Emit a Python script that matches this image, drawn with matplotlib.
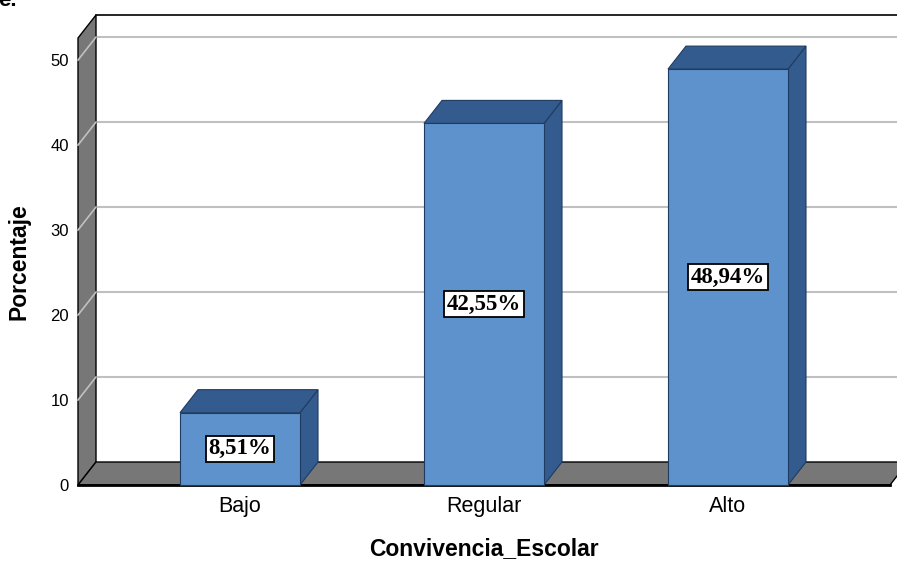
import numpy as np
import matplotlib
matplotlib.use("Agg")
import matplotlib.pyplot as plt
from matplotlib.patches import Polygon, Rectangle

# data
categories = ["Bajo", "Regular", "Alto"]
values = [8.51, 42.55, 48.94]
value_labels = ["8,51%", "42,55%", "48,94%"]
y_ticks = [0, 10, 20, 30, 40, 50]

front_col = "#5D92CC"
dark_col = "#345B8D"
edge_col = "#1F3B62"
gray = "#777777"
grid_col = "#C0C0C0"

W, H = 897, 562
fig = plt.figure(figsize=(W / 100, H / 100), dpi=100)
ax_l, ax_r, ax_b, ax_t = 78, 890, 485, 38
ax = fig.add_axes([ax_l / W, 1 - ax_b / H, (ax_r - ax_l) / W, (ax_b - ax_t) / H])
x0, x1 = -0.664, 2.664
y0, y1 = 0, 52.6
ax.set_xlim(x0, x1)
ax.set_ylim(y0, y1)
for s in ax.spines.values():
    s.set_visible(False)
ax.patch.set_visible(False)

# depth of the 3d effect in pixels, converted to data units
ddx = 18 * (x1 - x0) / (ax_r - ax_l)
ddy = 23 * (y1 - y0) / (ax_b - ax_t)
xr = x1 + 0.2  # back wall runs off the right edge

def poly(pts, fc, ec, lw=1.0, z=1):
    ax.add_patch(Polygon(pts, closed=True, facecolor=fc, edgecolor=ec,
                         linewidth=lw, zorder=z, clip_on=False))

# back wall grid lines
for v in y_ticks[1:]:
    ax.plot([x0 + ddx, xr], [v + ddy, v + ddy], color=grid_col, lw=1.5,
            zorder=1, clip_on=False)

# left wall with its diagonal grid marks
poly([(x0, 0), (x0, y1), (x0 + ddx, y1 + ddy), (x0 + ddx, ddy)], gray, "black", 1.0, 2)
for v in y_ticks[1:]:
    ax.plot([x0, x0 + ddx], [v, v + ddy], color=grid_col, lw=1.2,
            zorder=3, clip_on=False)
# back wall top edge
ax.plot([x0 + ddx, xr], [y1 + ddy, y1 + ddy], color="black", lw=1.2,
        zorder=3, clip_on=False)

# floor
poly([(x0, 0), (x1, 0), (x1 + ddx, ddy), (x0 + ddx, ddy)], gray, "black", 1.0, 2)
ax.plot([x0, x1], [0, 0], color="black", lw=2, zorder=3, clip_on=False)

# bars
bw = 120 * (x1 - x0) / (ax_r - ax_l)
xs = np.arange(len(categories))
for x, v, lab in zip(xs, values, value_labels):
    l, r = x - bw / 2, x + bw / 2
    poly([(r, 0), (r + ddx, ddy), (r + ddx, v + ddy), (r, v)], dark_col, edge_col, 0.8, 4)
    poly([(l, v), (r, v), (r + ddx, v + ddy), (l + ddx, v + ddy)], dark_col, edge_col, 0.8, 4)
    ax.add_patch(Rectangle((l, 0), bw, v, facecolor=front_col, edgecolor=edge_col,
                           linewidth=0.8, zorder=5, clip_on=False))
    ax.text(x, v / 2, lab, ha="center", va="center", fontsize=16.5,
            fontweight="bold", family="Liberation Serif", zorder=6,
            bbox=dict(boxstyle="square,pad=0.12", facecolor="white",
                      edgecolor="black", linewidth=1.3))

ax.set_yticks(y_ticks)
ax.set_yticklabels([str(t) for t in y_ticks], fontsize=12, family="Liberation Sans")
ax.set_xticks(xs)
ax.set_xticklabels(categories, fontsize=15.5, family="Liberation Sans")
ax.tick_params(axis="y", length=0, pad=6.5)
ax.tick_params(axis="x", length=0, pad=8)
ax.set_ylabel("Porcentaje", fontsize=16.5, fontweight="bold", family="Liberation Sans", labelpad=14)
ax.set_xlabel("Convivencia_Escolar", fontsize=16.5, fontweight="bold", family="Liberation Sans", labelpad=14)

fig.text(-0.002, 1.018, "e.", fontsize=16, fontweight="bold", family="Liberation Sans",
         ha="left", va="top")

fig.savefig("out.png", dpi=100)
